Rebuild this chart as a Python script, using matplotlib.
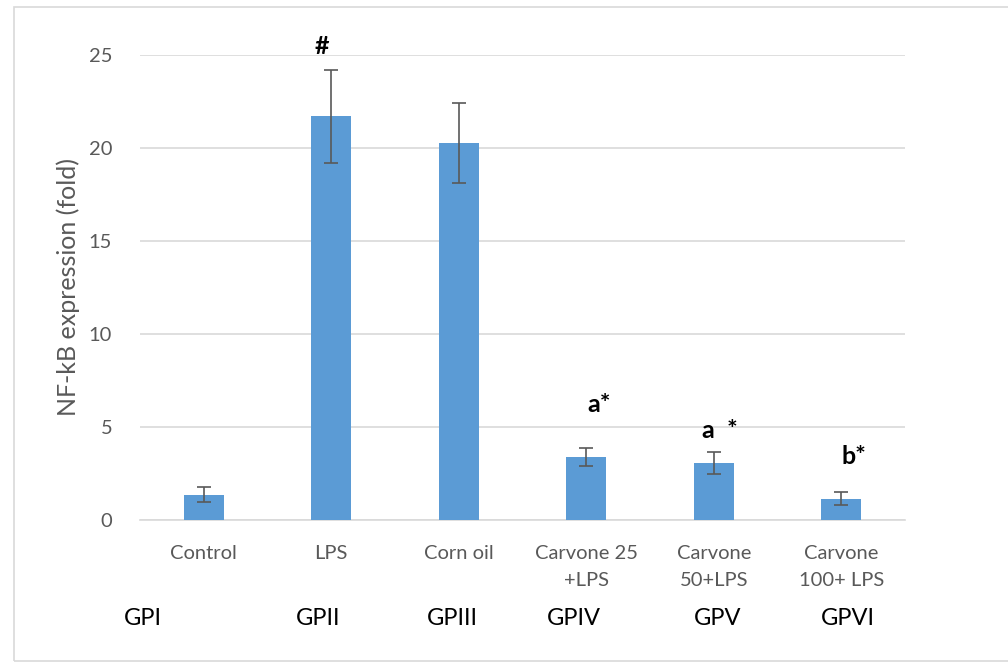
import numpy as np
import matplotlib.pyplot as plt
from matplotlib.patches import Rectangle

plt.rcParams['font.family'] = ['Lato', 'DejaVu Sans']

# data
cats = ['Control', 'LPS', 'Corn oil', 'Carvone 25\n+LPS', 'Carvone\n50+LPS', 'Carvone\n100+ LPS']
vals = [1.35, 21.7, 20.25, 3.4, 3.05, 1.15]
errs = [0.4, 2.5, 2.15, 0.48, 0.6, 0.37]
groups = ['GPI', 'GPII', 'GPIII', 'GPIV', 'GPV', 'GPVI']
group_dx = [-0.48, -0.1, -0.05, -0.1, 0.03, 0.05]
marks = ['', '#', '', 'a*', 'a  *', 'b*']
mark_y = [0, 24.85, 0, 5.6, 4.2, 2.8]
mark_dx = [0, -0.07, 0, 0.1, 0.05, 0.1]

fig = plt.figure(figsize=(10.08, 6.64), dpi=100)
fig.patches.append(Rectangle((14/1008, 3/664), 1.0, 654/664, transform=fig.transFigure,
                             fill=False, edgecolor='#d9d9d9', lw=1.2))
ax = fig.add_axes([140/1008, 144/664, 765/1008, 465/664])

x = np.arange(len(cats))
ax.bar(x, vals, width=0.31, color='#5b9bd5', zorder=3)
ax.errorbar(x, vals, yerr=errs, fmt='none', ecolor='#595959', elinewidth=1.2,
            capsize=5, capthick=1.2, zorder=4)

ax.set_xlim(-0.5, 5.5)
ax.set_ylim(0, 25)
ax.set_yticks([0, 5, 10, 15, 20, 25])
ax.yaxis.grid(True, color='#d9d9d9', lw=1.2, zorder=0)
for s in ['top', 'right', 'left']:
    ax.spines[s].set_visible(False)
ax.spines['bottom'].set_color('#d9d9d9')
ax.spines['bottom'].set_linewidth(1.2)
ax.tick_params(axis='both', length=0, colors='#595959', labelsize=14.5)
ax.tick_params(axis='y', pad=20)
ax.tick_params(axis='x', pad=18)
ax.set_xticks(x)
ax.set_xticklabels(cats, linespacing=1.7)
ax.set_ylabel('NF-kB expression (fold)', color='#595959', fontsize=18, labelpad=6)

for i in range(len(cats)):
    if marks[i]:
        ax.text(x[i] + mark_dx[i], mark_y[i], marks[i], ha='center', va='bottom',
                fontsize=18, fontweight='bold', color='black')
    ax.text(x[i] + group_dx[i], -5.3, groups[i], ha='center', va='center',
            fontsize=17, color='black')

fig.savefig('out.png', dpi=100)
